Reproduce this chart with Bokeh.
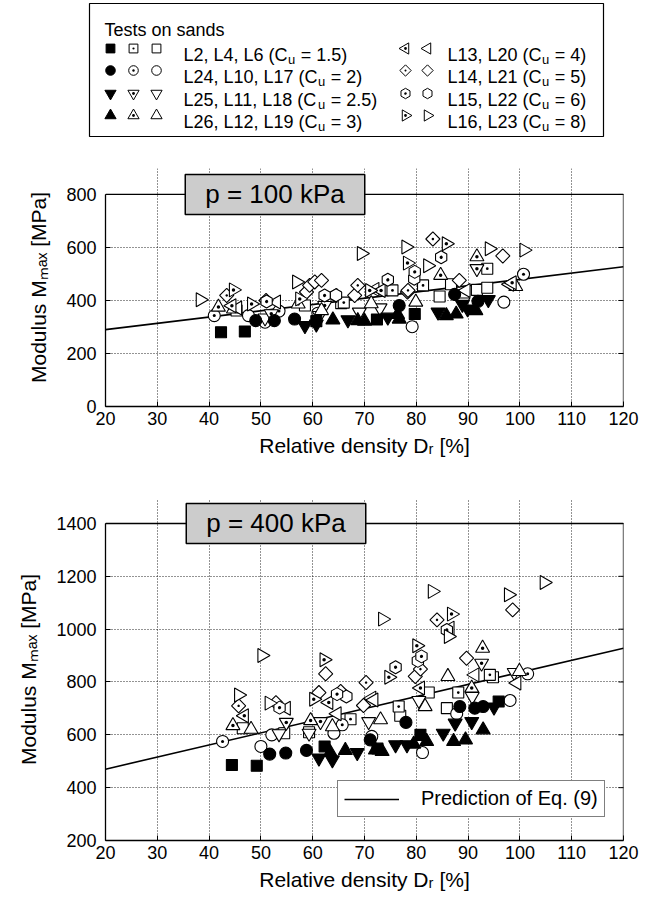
import math
from bokeh.plotting import figure
from bokeh.models import Range1d, Label, FixedTicker, Legend, LegendItem
from bokeh.layouts import column
from bokeh.embed import file_html
from bokeh.resources import INLINE
from bokeh.core.properties import value

FONT = "Liberation Sans"

# ---------------- data ----------------
X_TICKS = [20, 30, 40, 50, 60, 70, 80, 90, 100, 110, 120]
Y_TICKS_100 = [0, 200, 400, 600, 800]
Y_TICKS_400 = [200, 400, 600, 800, 1000, 1200, 1400]

PRED_DR = [20, 120]
PRED_M_100 = [290, 527]
PRED_M_400 = [470, 928]

# p = 100 kPa  (Dr [%], Mmax [MPa])
L2_100_DR = [42.3, 46.9, 60.7, 72.4, 79.7]
L2_100_M = [280, 283, 322, 328, 349]
L4_100_DR = [66.0, 75.4, 81.3, 93.7]
L4_100_M = [392, 438, 457, 520]
L6_100_DR = [45.3, 58.5, 65.5, 84.5, 86.7, 91.7, 93.7]
L6_100_M = [362, 381, 390, 415, 461, 440, 448]
L24_100_DR = [49.0, 52.6, 56.5, 76.7, 87.4, 91.9]
L24_100_M = [324, 324, 330, 381, 423, 397]
L10_100_DR = [41.0, 53.5, 100.7]
L10_100_M = [343, 360, 499]
L17_100_DR = [47.6, 50.8, 61.0, 79.2, 96.9]
L17_100_M = [343, 318, 352, 301, 394]
L25_100_DR = [58.5, 60.7, 66.8, 74.5, 84.2, 88.9, 89.9, 93.9]
L25_100_M = [305, 311, 327, 337, 356, 385, 368, 403]
L11_100_DR = [52.0, 62.3, 91.7]
L11_100_M = [350, 381, 520]
L18_100_DR = [50.8, 61.3, 69.0, 73.0, 89.0]
L18_100_M = [334, 343, 356, 372, 394]
L26_100_DR = [63.9, 68.7, 70.0, 76.4, 76.7, 85.8, 87.7, 91.5]
L26_100_M = [327, 324, 322, 347, 330, 343, 349, 362]
L12_100_DR = [41.8, 57.2, 84.7, 91.7]
L12_100_M = [375, 387, 495, 565]
L19_100_DR = [44.7, 61.7, 71.3, 79.9, 99.2]
L19_100_M = [368, 362, 388, 394, 453]
L13_100_DR = [44.4, 63.9, 73.2, 98.5]
L13_100_M = [380, 419, 438, 467]
L20_100_DR = [45.5, 53.0, 72.0, 89.6, 98.0]
L20_100_M = [372, 394, 442, 438, 461]
L14_100_DR = [43.4, 51.0, 68.7, 78.4, 83.2]
L14_100_M = [419, 400, 457, 438, 632]
L21_100_DR = [58.8, 59.4, 60.4, 61.7, 68.1, 78.3, 88.3, 96.7]
L21_100_M = [432, 457, 470, 476, 419, 432, 476, 568]
L15_100_DR = [51.1, 62.3, 74.5, 79.7, 84.8]
L15_100_M = [396, 419, 478, 508, 563]
L22_100_DR = [64.5, 79.6]
L22_100_M = [420, 482]
L16_100_DR = [44.7, 48.2, 57.5, 71.0, 78.3, 85.8]
L16_100_M = [440, 387, 406, 438, 541, 614]
L23_100_DR = [38.3, 56.9, 69.4, 78.0, 82.2, 94.1, 100.8]
L23_100_M = [403, 470, 577, 602, 531, 595, 590]

# p = 400 kPa
L2_400_DR = [44.4, 49.2, 62.3, 72.5, 80.8, 95.9]
L2_400_M = [486, 483, 556, 548, 600, 726]
L4_400_DR = [67.3, 76.6, 88.1, 94.2]
L4_400_M = [659, 707, 760, 827]
L6_400_DR = [46.5, 54.5, 59.3, 76.9, 82.4, 85.9, 94.8]
L6_400_M = [625, 606, 610, 672, 760, 701, 818]
L24_400_DR = [51.7, 54.8, 58.8, 71.1, 78.0, 88.4, 91.3, 92.9]
L24_400_M = [527, 531, 541, 581, 647, 707, 701, 707]
L10_400_DR = [42.6, 65.7, 71.4, 101.5]
L10_400_M = [575, 638, 594, 831]
L17_400_DR = [50.0, 52.1, 64.1, 81.2, 87.8, 98.1]
L17_400_M = [556, 600, 606, 533, 680, 730]
L25_400_DR = [61.2, 63.8, 68.6, 76.0, 78.2, 85.2, 87.5, 90.7, 95.0]
L25_400_M = [512, 505, 533, 562, 562, 606, 644, 650, 705]
L11_400_DR = [54.9, 61.5, 92.6]
L11_400_M = [647, 650, 871]
L18_400_DR = [53.5, 59.3, 70.8, 80.5, 90.8, 98.9]
L18_400_M = [604, 606, 650, 730, 745, 836]
L26_400_DR = [63.4, 66.3, 72.1, 73.4, 79.5, 82.0, 87.2, 89.5, 92.9]
L26_400_M = [533, 541, 543, 537, 565, 575, 575, 581, 619]
L12_400_DR = [44.6, 59.6, 90.7, 92.8]
L12_400_M = [635, 654, 777, 928]
L19_400_DR = [48.1, 63.8, 73.1, 81.7, 86.1, 99.9]
L19_400_M = [621, 631, 657, 707, 821, 840]
L13_400_DR = [46.8, 63.1, 80.8]
L13_400_M = [672, 722, 777]
L20_400_DR = [54.9, 64.7, 71.4, 71.8, 86.5, 91.3, 99.4]
L20_400_M = [701, 680, 739, 732, 1004, 827, 796]
L14_400_DR = [45.7, 65.4, 70.3, 80.8, 84.0]
L14_400_M = [710, 764, 798, 849, 1035]
L21_400_DR = [52.9, 61.2, 62.5, 69.8, 79.8, 89.7, 98.6]
L21_400_M = [722, 760, 831, 711, 821, 890, 1073]
L15_400_DR = [53.6, 64.7, 76.0, 81.0, 85.9]
L15_400_M = [703, 754, 856, 897, 997]
L22_400_DR = [66.5, 80.3]
L22_400_M = [745, 880]
L16_400_DR = [60.2, 62.2, 74.7, 80.1, 86.8]
L16_400_M = [735, 884, 818, 937, 1057]
L23_400_DR = [45.7, 50.2, 51.6, 73.5, 83.1, 86.2, 97.8, 104.7]
L23_400_M = [751, 900, 720, 1038, 1143, 972, 1130, 1177]

LEGEND_LEFT = [(["L2", "L4", "L6"], "L2, L4, L6", "1.5"),
               (["L24", "L10", "L17"], "L24, L10, L17", "2"),
               (["L25", "L11", "L18"], "L25, L11, L18", "2.5"),
               (["L26", "L12", "L19"], "L26, L12, L19", "3")]
LEGEND_RIGHT = [(["L13", "L20"], "L13, L20", "4"),
                (["L14", "L21"], "L14, L21", "5"),
                (["L15", "L22"], "L15, L22", "6"),
                (["L16", "L23"], "L16, L23", "8")]

TESTS = ["L6", "L4", "L17", "L10", "L18", "L11", "L19", "L12", "L20", "L13",
         "L21", "L14", "L22", "L15", "L23", "L16", "L2", "L24", "L25", "L26"]
DATA_100 = {t: (globals()[f"{t}_100_DR"], globals()[f"{t}_100_M"]) for t in TESTS}
DATA_400 = {t: (globals()[f"{t}_400_DR"], globals()[f"{t}_400_M"]) for t in TESTS}

# ---------------- styles ----------------
PI = math.pi
MK = {
    "L2": ("square", "black", 0.0, 11),
    "L4": ("square_dot", "white", 0.0, 11),
    "L6": ("square", "white", 0.0, 11),
    "L24": ("circle", "black", 0.0, 12),
    "L10": ("circle_dot", "white", 0.0, 12),
    "L17": ("circle", "white", 0.0, 12),
    "L25": ("inverted_triangle", "black", 0.0, 14),
    "L11": ("triangle_dot", "white", PI, 14),
    "L18": ("inverted_triangle", "white", 0.0, 14),
    "L26": ("triangle", "black", 0.0, 14),
    "L12": ("triangle_dot", "white", 0.0, 14),
    "L19": ("triangle", "white", 0.0, 14),
    "L13": ("triangle_dot", "white", PI / 2, 14),
    "L20": ("triangle", "white", PI / 2, 14),
    "L14": ("square_dot", "white", PI / 4, 10),
    "L21": ("square", "white", PI / 4, 10),
    "L15": ("hex_dot", "white", PI / 6, 13),
    "L22": ("hex", "white", PI / 6, 13),
    "L16": ("triangle_dot", "white", -PI / 2, 14),
    "L23": ("triangle", "white", -PI / 2, 14),
}

ARIAL = {' ': 278, '%': 889, '(': 333, ')': 333, ',': 278, '.': 278, '=': 584, '[': 278, ']': 278,
         'C': 722, 'D': 722, 'E': 667, 'L': 556, 'M': 833, 'P': 667, 'R': 722, 'T': 611,
         'a': 556, 'c': 500, 'd': 556, 'e': 556, 'f': 278, 'i': 222, 'k': 500, 'l': 222, 'm': 833,
         'n': 556, 'o': 556, 'p': 556, 'q': 556, 'r': 333, 's': 500, 't': 278, 'u': 556, 'v': 500,
         'x': 500, 'y': 500}


def tw(s, fs):
    return sum(ARIAL.get(c, 556) for c in s) * fs / 1000.0


def style_axis(ax):
    ax.axis_line_color = "black"
    ax.axis_line_width = 1.3
    ax.major_tick_in = 5
    ax.major_tick_out = 0
    ax.major_tick_line_color = "black"
    ax.major_tick_line_width = 1
    ax.minor_tick_line_color = None
    ax.major_label_text_font = FONT
    ax.major_label_text_color = "black"
    ax.major_label_text_font_size = "18px"
    ax.axis_label_text_font = FONT
    ax.axis_label_text_font_size = "21px"
    ax.axis_label_text_font_style = "normal"
    ax.axis_label_text_color = "black"


def panel(data, yticks, pred, y_extra, bl, br, bt, frame_h, bb, title, title_cx, with_legend):
    ylo, yhi = yticks[0], yticks[-1]
    xlo, xhi = X_TICKS[0], X_TICKS[-1]
    p = figure(width=655, height=bt + frame_h + bb,
               x_range=Range1d(xlo, xhi), y_range=Range1d(ylo, yhi + y_extra),
               output_backend="svg", toolbar_location=None,
               min_border_left=bl, min_border_right=br, min_border_top=bt, min_border_bottom=bb)
    p.outline_line_color = None
    p.background_fill_color = "white"
    p.border_fill_color = "white"
    p.xaxis.ticker = FixedTicker(ticks=X_TICKS)
    p.yaxis.ticker = FixedTicker(ticks=yticks)
    p.yaxis.bounds = (ylo, yhi)
    style_axis(p.xaxis[0])
    style_axis(p.yaxis[0])
    p.xaxis[0].major_label_standoff = 5
    p.yaxis[0].major_label_standoff = 9
    p.xaxis[0].axis_label = "Relative density D\u1d63 [%]"
    p.xaxis[0].axis_label_standoff = 6
    p.yaxis[0].axis_label = "Modulus M\u2098\u2090\u2093 [MPa]"
    p.yaxis[0].axis_label_standoff = 13
    for g in (p.xgrid[0], p.ygrid[0]):
        g.grid_line_color = "black"
        g.grid_line_alpha = 0.85
        g.grid_line_dash = "1 2"
        g.grid_line_width = 1
    p.xgrid[0].bounds = (ylo, yhi)

    # frame: top and right edges, with inward ticks on the right edge
    p.line([xlo, xhi], [yhi, yhi], line_color="black", line_width=1.3)
    p.line([xhi, xhi], [ylo, yhi], line_color="black", line_width=1.3)
    p.scatter([xhi] * len(yticks), yticks, marker="dash", size=10, line_color="black", line_width=1)

    line = p.line(PRED_DR, pred, line_color="black", line_width=1.6)
    for t in TESTS:
        mk, fill, ang, sz = MK[t]
        dr, m = data[t]
        p.scatter(dr, m, marker=mk, size=sz, angle=ang, fill_color=fill,
                  line_color="black", line_width=1.1)

    lab = Label(x=title_cx, y=yhi, x_units="screen", y_units="data", text=title,
                text_font=FONT, text_font_size="26px", text_color="black",
                text_align="center", text_baseline="middle",
                background_fill_color="#cccccc", border_line_color="black", border_line_width=1.5,
                padding=dict(left=20, right=20, top=5, bottom=5))
    p.add_layout(lab)

    if with_legend:
        leg = Legend(items=[LegendItem(label="Prediction of Eq. (9)", renderers=[line])],
                     location=(232, 23), margin=0, padding=6, spacing=0,
                     glyph_width=55, glyph_height=16, label_height=16, label_standoff=22,
                     label_text_font=FONT, label_text_font_size="20px", label_text_color="black",
                     border_line_color="black", border_line_width=1.2, background_fill_alpha=1.0)
        p.add_layout(leg)
    return p


# ---------------- legend figure ----------------
leg = figure(width=655, height=150, x_range=Range1d(0, 655), y_range=Range1d(150, 0),
             output_backend="svg", toolbar_location=None, x_axis_type=None, y_axis_type=None,
             min_border=0)
leg.outline_line_color = None
leg.xgrid.visible = False
leg.ygrid.visible = False
leg.quad(left=[89], right=[603], top=[3], bottom=[136], fill_color=None,
         line_color="black", line_width=1.2)
FS = 18
leg.text(x=[104], y=[29], text=["Tests on sands"], text_font=value(FONT),
         text_font_size=value(f"{FS}px"), text_baseline="alphabetic", text_color="black")
ROW_Y = [48, 70, 93, 115]


def legend_column(entries, mx, tx):
    for (tests, names, cu), ry in zip(entries, ROW_Y):
        for t, x in zip(tests, mx):
            mk, fill, ang, sz = MK[t]
            leg.scatter([x], [ry], marker=mk, size=sz * 0.8, angle=ang,
                        fill_color=fill, line_color="black", line_width=1.0)
        # (text, size, baseline shift, gap after) -- SVG drops leading blanks, so gaps are explicit
        pieces = [(f"{names} (C", FS, 0, 0.5), ("u", 13, 5, tw(" ", FS) + 0.5), (f"= {cu})", FS, 0, 0)]
        x = tx
        for txt, s, sh, gap in pieces:
            leg.text(x=[x], y=[ry + 6 + sh], text=[txt], text_font=value(FONT),
                     text_font_size=value(f"{s}px"), text_baseline="alphabetic", text_color="black")
            x += tw(txt, s) + gap


legend_column(LEGEND_LEFT, [110, 133, 156], 183)
legend_column(LEGEND_RIGHT, [405, 427], 447)

# top panel: frame 168..406 (y 0..800 at 194..406), bottom panel: frame 498..840
p1 = panel(DATA_100, Y_TICKS_100, PRED_M_100, 98, 105, 32, 18, 238, 54,
           "p = 100 kPa", 169.5, False)
p2 = panel(DATA_400, Y_TICKS_400, PRED_M_400, 94.6, 105, 32, 38, 342, 67,
           "p = 400 kPa", 170.5, True)

layout = column(leg, column(p1, p2, spacing=0), spacing=0)
open("out.html", "w").write(file_html(layout, INLINE))
